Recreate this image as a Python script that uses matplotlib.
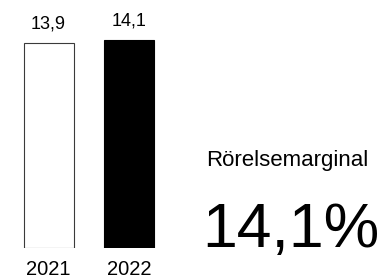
import matplotlib
matplotlib.use("Agg")
import matplotlib.pyplot as plt

years = ["2021", "2022"]
values = [13.9, 14.1]
value_labels = ["13,9", "14,1"]
metric_name = "Rörelsemarginal"
metric_value = "14,1%"

W, H = 382, 278
DPI = 100
fig = plt.figure(figsize=(W / DPI, H / DPI), dpi=DPI)
fig.patch.set_facecolor("white")

fam = ["Liberation Sans", "DejaVu Sans"]

# axes in pixel coordinates
left_px, right_px = 8.5, 168.9
bottom_px, top_px = 248.0, 0.0
ax = fig.add_axes([left_px / W, (H - bottom_px) / H, (right_px - left_px) / W, (bottom_px - top_px) / H])
px_per_unit = 14.75
ax.set_xlim(-0.5, 1.5)
ax.set_ylim(0, (bottom_px - top_px) / px_per_unit)
ax.axis("off")

x = list(range(len(years)))
colors = ["white", "black"]
edges = ["#3a3a3a", "black"]
ax.bar(x, values, width=0.625, color=colors, edgecolor=edges, linewidth=0.8)

pt = 72.0 / DPI
for i, (v, lab) in enumerate(zip(values, value_labels)):
    ax.annotate(lab, xy=(i, v), xytext=(0, 14.5 * pt), textcoords="offset points",
                ha="center", va="baseline", fontsize=13, family=fam, color="black")
    ax.annotate(years[i], xy=(i, 0), xytext=(0, -27.0 * pt), textcoords="offset points",
                ha="center", va="baseline", fontsize=14.5, family=fam, color="black",
                annotation_clip=False)

fig.text(206.0 / W, (H - 165.7) / H, metric_name, ha="left", va="baseline",
         fontsize=16, family=fam, color="black")
fig.text(291.0 / W, (H - 246.7) / H, metric_value, ha="center", va="baseline",
         fontsize=45, family=fam, color="black")

fig.savefig("out.png", dpi=DPI, facecolor="white")
